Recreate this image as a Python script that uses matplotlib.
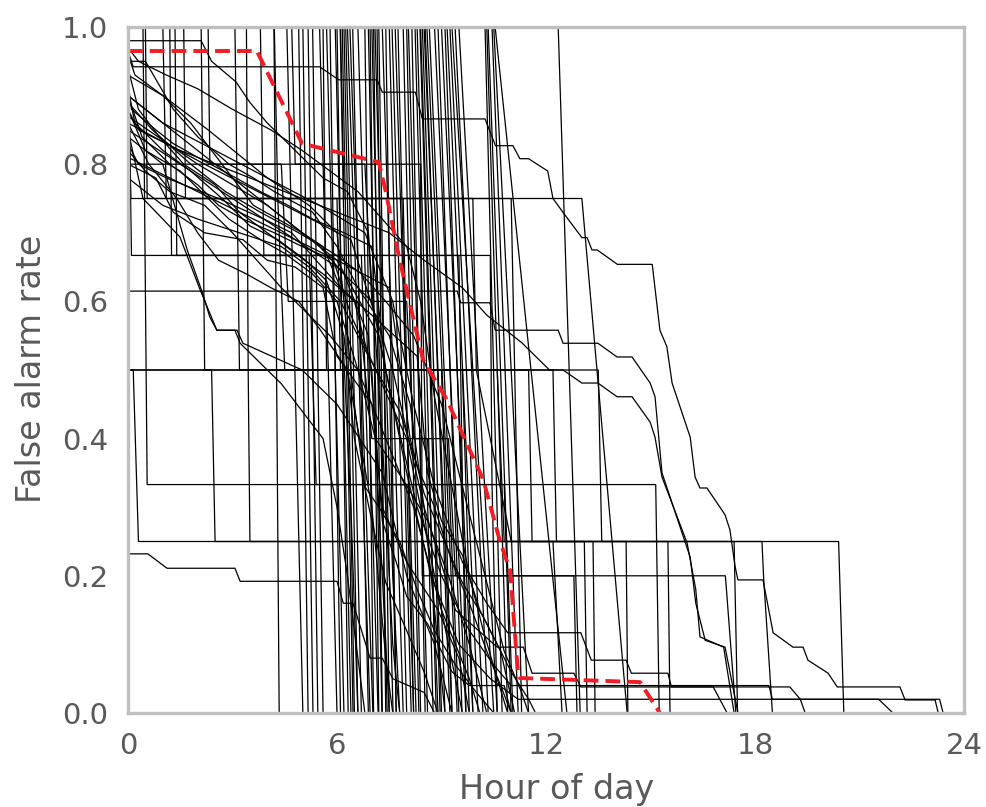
import matplotlib
matplotlib.use("Agg")
import matplotlib.pyplot as plt

# ---------------- data ----------------
hour_ticks = [0, 6, 12, 18, 24]
rate_ticks = [0.0, 0.2, 0.4, 0.6, 0.8, 1.0]

# mean false alarm rate (red dashed)
mean_hour = [0, 3.7, 5.0, 7.2, 7.4, 7.8, 8.47, 9.16, 10.2, 10.68, 10.97, 11.2, 11.25, 14.7, 15.27]
mean_rate = [0.965, 0.965, 0.83, 0.803, 0.76, 0.66, 0.515, 0.456, 0.34, 0.25, 0.208, 0.055, 0.051, 0.045, 0.0]

# stations whose rate falls almost straight from 1 to 0
drop_start_hour = [4.19, 4.56, 4.9, 5.02, 5.17, 5.3, 5.5, 5.7, 5.8, 5.95, 6.0, 6.09, 6.15, 6.2, 6.25,
                   6.3, 6.37, 6.45, 6.6, 6.8, 6.9, 6.95, 7.0, 7.05, 7.09, 7.15, 7.2, 7.3, 7.4, 7.5,
                   7.58, 7.67, 7.75, 7.9, 8.0, 8.05, 8.15, 8.24, 8.3, 8.38, 8.4, 8.45, 8.5, 8.53,
                   8.58, 8.65, 8.8, 8.9, 9.0, 9.1, 9.16, 9.24, 9.3, 9.39, 9.5, 10.25, 10.3, 10.34,
                   10.45, 10.5, 10.54, 12.35]
drop_end_hour = [4.34, 5.02, 5.17, 5.31, 5.45, 5.6, 6.0, 6.2, 6.1, 6.4, 6.32, 6.46, 6.5, 6.6, 6.7,
                 6.95, 7.03, 6.9, 7.18, 7.05, 7.29, 7.2, 7.44, 7.3, 7.61, 7.4, 7.5, 7.9, 7.7, 8.0,
                 8.13, 8.27, 8.2, 8.35, 8.4, 8.6, 8.53, 8.76, 8.85, 8.96, 9.0, 9.1, 9.3, 9.24,
                 9.45, 9.5, 9.7, 9.59, 9.9, 9.8, 10.05, 10.19, 10.5, 10.34, 10.6, 10.74, 10.9, 11.05,
                 11.2, 11.5, 12.6, 12.98]

# stations with few events (flat levels)
few_event_curves = [
    [(0, 1.0), (0.08, 0.75), (13.03, 0.75), (14.33, 0.0)],
    [(0, 1.0), (0.1, 0.667), (10.4, 0.667), (10.45, 0.333), (10.6, 0.0)],
    [(0, 0.5), (0.15, 0.5), (0.3, 0.25), (20.4, 0.25), (20.55, 0.0)],
    [(0, 1.0), (0.43, 1.0), (0.55, 0.333), (15.15, 0.333), (15.25, 0.0)],
    [(0, 0.5), (13.5, 0.5), (13.6, 0.25), (14.3, 0.25), (14.35, 0.0)],
    [(0, 1.0), (2.1, 1.0), (2.2, 0.5), (2.4, 0.5), (2.5, 0.25), (18.2, 0.25), (18.25, 0.195), (18.5, 0.0)],
    [(0, 1.0), (3.4, 1.0), (3.45, 0.5), (3.5, 0.25), (15.5, 0.25), (15.56, 0.0)],
    [(0, 1.0), (1.0, 1.0), (1.1, 0.75), (11.0, 0.75), (11.3, 0.0)],
    [(0, 1.0), (1.35, 1.0), (1.4, 0.667), (9.5, 0.667), (9.7, 0.0)],
    [(0, 1.0), (3.07, 1.0), (3.2, 0.5), (9.0, 0.5), (9.3, 0.0)],
    [(0, 0.8), (8.4, 0.8), (8.45, 0.2), (17.15, 0.2), (17.45, 0.0)],
    [(0, 0.5), (12.2, 0.5), (12.3, 0.25), (17.4, 0.25), (17.5, 0.0)],
    [(0, 1.0), (0.5, 1.0), (0.55, 0.75), (6.0, 0.75), (6.1, 0.5), (7.5, 0.5), (7.7, 0.0)],
    [(0, 1.0), (1.2, 1.0), (1.25, 0.667), (5.2, 0.667), (5.4, 0.333), (8.0, 0.333), (8.2, 0.0)],
    [(0, 1.0), (1.6, 1.0), (1.65, 0.75), (4.3, 0.75), (4.5, 0.5), (9.6, 0.5), (9.9, 0.0)],
    [(0, 1.0), (2.3, 1.0), (2.35, 0.8), (4.4, 0.8), (4.6, 0.6), (6.6, 0.6), (7.0, 0.4), (8.6, 0.4), (8.9, 0.0)],
    [(0, 1.0), (3.8, 1.0), (3.9, 0.667), (6.7, 0.667), (6.9, 0.333), (10.8, 0.333), (11.0, 0.0)],
    [(0, 1.0), (4.2, 1.0), (4.3, 0.75), (7.9, 0.75), (8.0, 0.5), (10.6, 0.5), (10.8, 0.25), (12.2, 0.25), (12.46, 0.0)],
    [(0, 1.0), (4.7, 1.0), (4.8, 0.8), (6.8, 0.8), (7.0, 0.6), (8.0, 0.6), (8.2, 0.4), (9.2, 0.4), (9.4, 0.2), (12.8, 0.2), (12.89, 0.0)],
    [(0, 1.0), (5.6, 1.0), (5.7, 0.5), (11.5, 0.5), (11.6, 0.25), (13.1, 0.25), (13.18, 0.0)],
    [(0, 1.0), (6.1, 1.0), (6.2, 0.75), (9.9, 0.75), (10.0, 0.5), (11.0, 0.25), (13.35, 0.25), (13.41, 0.0)],
]

# stations with many events (gradual staircases)
stair_curves = [
    [(0, 0.98), (2.1, 0.98), (2.4, 0.95), (3.1, 0.92), (3.5, 0.89), (4.0, 0.86), (4.6, 0.83), (5.2, 0.80), (5.6, 0.78), (6.3, 0.76), (6.9, 0.70), (7.3, 0.40), (7.6, 0.10), (7.8, 0.0)],
    [(0, 0.96), (0.2, 0.93), (1.0, 0.90), (1.8, 0.86), (2.4, 0.82), (3.0, 0.78), (3.6, 0.74), (4.3, 0.72), (5.0, 0.70), (5.6, 0.68), (6.1, 0.62), (6.4, 0.30), (6.6, 0.0)],
    [(0, 0.94), (0.3, 0.88), (0.9, 0.84), (1.6, 0.80), (2.5, 0.77), (3.2, 0.73), (4.0, 0.70), (4.8, 0.67), (5.6, 0.64), (6.5, 0.60), (7.0, 0.50), (7.3, 0.20), (7.5, 0.0)],
    [(0, 0.90), (0.4, 0.84), (1.2, 0.80), (2.0, 0.77), (2.6, 0.74), (3.3, 0.72), (4.2, 0.70), (5.0, 0.68), (5.9, 0.66), (6.4, 0.58), (8.0, 0.40), (8.6, 0.25), (9.2, 0.10), (9.6, 0.0)],
    [(0, 0.88), (0.5, 0.82), (1.5, 0.79), (2.1, 0.76), (2.9, 0.72), (3.8, 0.69), (4.5, 0.67), (5.3, 0.64), (6.0, 0.60), (6.6, 0.50), (8.2, 0.30), (9.0, 0.15), (9.8, 0.05), (10.1, 0.0)],
    [(0, 0.86), (0.6, 0.80), (1.4, 0.75), (2.0, 0.70), (2.6, 0.66), (3.4, 0.64), (4.1, 0.62), (4.9, 0.60), (5.5, 0.56), (6.3, 0.50), (7.0, 0.30), (7.4, 0.08), (7.6, 0.0)],
    [(0, 0.85), (0.43, 0.75), (1.49, 0.694), (2.07, 0.617), (2.55, 0.558), (3.13, 0.558), (3.3, 0.539), (5.0, 0.50), (6.0, 0.45), (7.3, 0.35), (8.0, 0.20), (8.8, 0.10), (9.3, 0.0)],
    [(0, 0.84), (1.0, 0.80), (1.7, 0.675), (2.12, 0.615), (2.35, 0.577), (2.55, 0.558), (3.07, 0.558), (3.22, 0.539), (4.4, 0.48), (5.6, 0.40), (6.0, 0.30), (6.3, 0.20), (6.8, 0.0)],
    [(0, 0.82), (0.5, 0.79), (1.2, 0.76), (2.2, 0.74), (3.0, 0.70), (3.7, 0.66), (4.4, 0.62), (5.2, 0.58), (5.8, 0.55), (6.6, 0.50), (7.1, 0.40), (7.9, 0.34), (8.6, 0.28), (9.2, 0.20), (9.8, 0.10), (10.3, 0.0)],
    [(0, 0.80), (0.8, 0.78), (1.3, 0.73), (2.2, 0.70), (3.3, 0.69), (4.0, 0.66), (4.8, 0.65), (5.6, 0.62), (6.0, 0.52), (7.0, 0.45), (7.3, 0.30), (8.0, 0.22), (8.9, 0.15), (9.5, 0.08), (9.8, 0.0)],
    [(0, 0.92), (0.1, 0.88), (0.8, 0.85), (1.3, 0.83), (2.0, 0.81), (3.1, 0.78), (3.8, 0.76), (4.6, 0.74), (5.3, 0.72), (6.2, 0.70), (7.0, 0.68), (7.4, 0.50), (7.6, 0.20), (7.8, 0.0)],
    [(0, 0.95), (0.5, 0.95), (1.3, 0.88), (2.0, 0.84), (2.9, 0.80), (3.6, 0.78), (4.2, 0.76), (5.3, 0.73), (6.0, 0.68), (6.6, 0.62), (7.5, 0.55), (8.1, 0.45), (8.5, 0.30), (8.9, 0.10), (9.1, 0.0)],
    [(0, 0.93), (1.0, 0.90), (2.3, 0.85), (4.0, 0.78), (5.2, 0.74), (6.0, 0.70), (6.5, 0.45), (6.8, 0.33), (7.2, 0.30), (7.8, 0.25), (8.3, 0.18), (8.8, 0.12), (9.4, 0.07), (10.0, 0.03), (10.5, 0.0)],
    [(0, 0.90), (1.5, 0.84), (3.0, 0.78), (4.5, 0.72), (6.0, 0.66), (7.5, 0.62), (8.1, 0.40), (8.5, 0.32), (9.0, 0.26), (9.6, 0.19), (10.2, 0.14), (10.6, 0.10), (11.0, 0.06), (11.5, 0.02), (11.7, 0.0)],
    [(0, 0.87), (2.0, 0.80), (4.0, 0.74), (5.5, 0.68), (6.2, 0.64), (6.9, 0.55), (7.3, 0.28), (7.7, 0.22), (8.0, 0.17), (8.6, 0.13), (9.3, 0.06), (9.8, 0.04), (10.8, 0.04), (11.0, 0.0)],
    [(0, 0.83), (0.3, 0.80), (1.1, 0.78), (2.6, 0.75), (3.9, 0.72), (4.7, 0.70), (5.4, 0.66), (6.1, 0.62), (7.0, 0.58), (8.3, 0.52), (8.6, 0.35), (9.0, 0.28), (9.6, 0.23), (10.1, 0.15), (10.7, 0.09), (11.1, 0.0)],
    [(0, 0.91), (0.2, 0.86), (1.0, 0.82), (1.8, 0.79), (2.7, 0.75), (3.5, 0.71), (4.3, 0.69), (5.1, 0.66), (5.7, 0.63), (6.2, 0.55), (6.5, 0.40), (7.0, 0.28), (7.4, 0.19), (8.0, 0.12), (8.5, 0.06), (8.9, 0.0)],
    [(0, 0.89), (0.7, 0.85), (1.8, 0.80), (2.8, 0.76), (3.8, 0.73), (4.9, 0.70), (5.9, 0.67), (6.7, 0.64), (7.4, 0.60), (8.2, 0.55), (9.0, 0.45), (9.5, 0.35), (10.0, 0.25), (10.4, 0.17), (10.8, 0.09), (11.3, 0.03), (11.5, 0.0)],
    [(0, 0.78), (1.0, 0.74), (2.0, 0.72), (3.2, 0.70), (4.4, 0.68), (5.2, 0.65), (6.1, 0.60), (6.9, 0.52), (7.8, 0.44), (8.3, 0.36), (8.8, 0.30), (9.3, 0.22), (9.8, 0.16), (10.3, 0.09), (10.7, 0.04), (11.0, 0.0)],
    [(0, 0.97), (0.3, 0.95), (1.1, 0.93), (2.0, 0.91), (3.0, 0.88), (4.1, 0.85), (5.0, 0.82), (5.8, 0.79), (6.6, 0.76), (7.3, 0.72), (8.0, 0.68), (8.4, 0.60), (8.8, 0.46), (9.3, 0.33), (9.8, 0.20), (10.2, 0.12), (10.6, 0.05), (10.9, 0.0)],
]

# stations whose alarms last into the afternoon / evening
late_curves = [
    [(0, 0.965), (0.15, 0.942), (5.5, 0.942), (6.05, 0.923), (7.15, 0.923), (7.3, 0.905), (8.25, 0.905), (8.45, 0.866),
     (10.25, 0.866), (10.55, 0.827), (11.05, 0.827), (11.25, 0.808), (11.5, 0.808), (12.05, 0.79), (12.2, 0.75),
     (12.5, 0.729), (13.03, 0.693), (13.18, 0.693), (13.32, 0.675), (13.47, 0.675), (14.05, 0.654), (15.05, 0.654),
     (15.27, 0.558), (15.47, 0.534), (15.62, 0.481), (16.14, 0.402), (16.28, 0.344), (16.42, 0.328), (16.62, 0.328),
     (17.14, 0.289), (17.28, 0.267), (17.43, 0.213), (17.51, 0.194), (18.23, 0.194), (18.52, 0.117), (19.09, 0.096),
     (19.38, 0.096), (19.52, 0.077), (20.1, 0.058), (20.36, 0.038), (22.16, 0.038), (22.31, 0.019), (23.17, 0.019), (23.26, 0.0)],
    [(0, 0.615), (9.45, 0.615), (9.55, 0.598), (10.39, 0.598), (10.54, 0.558), (12.35, 0.558), (12.49, 0.539),
     (13.49, 0.539), (14.04, 0.519), (14.47, 0.519), (14.99, 0.481), (15.13, 0.461), (15.33, 0.35), (15.62, 0.306),
     (16.14, 0.227), (16.3, 0.16), (16.57, 0.106), (17.14, 0.096), (17.23, 0.073), (17.51, 0.0)],
    [(0, 0.88), (0.3, 0.85), (1.5, 0.82), (3.0, 0.79), (4.5, 0.76), (6.0, 0.73), (7.5, 0.70), (8.5, 0.66), (9.6, 0.62),
     (10.3, 0.58), (11.3, 0.54), (12.1, 0.5), (12.49, 0.5), (13.03, 0.481), (13.49, 0.481), (14.04, 0.461),
     (14.47, 0.461), (14.99, 0.424), (15.13, 0.402), (15.33, 0.344), (16.05, 0.248), (16.3, 0.18), (16.42, 0.111),
     (17.1, 0.096), (17.4, 0.0)],
]

# stations with long low tails
tail_curves = [
    [(0, 0.9), (1, 0.86), (2.5, 0.82), (4, 0.78), (5.5, 0.74), (6.8, 0.70), (7.6, 0.6), (8.2, 0.45), (8.8, 0.33),
     (9.6, 0.22), (10.3, 0.16), (10.9, 0.117), (13.0, 0.117), (13.3, 0.077), (14.3, 0.077), (14.45, 0.058),
     (15.5, 0.058), (15.6, 0.038), (16.8, 0.038), (17.2, 0.0)],
    [(0, 0.85), (1.5, 0.8), (3, 0.75), (4.5, 0.7), (6, 0.65), (7, 0.6), (7.6, 0.45), (8.3, 0.3), (9.0, 0.2),
     (9.8, 0.12), (10.5, 0.07), (11.0, 0.04), (18.4, 0.04), (18.5, 0.02), (23.3, 0.02), (23.4, 0.0)],
    [(0, 0.81), (2, 0.76), (4, 0.71), (6, 0.66), (7.2, 0.55), (8.0, 0.35), (8.7, 0.2), (9.5, 0.1), (10.4, 0.05),
     (11.2, 0.02), (21.55, 0.02), (21.96, 0.0)],
    [(0, 0.232), (0.57, 0.232), (1.12, 0.211), (3.07, 0.211), (3.22, 0.192), (6.0, 0.192), (6.18, 0.16),
     (6.46, 0.16), (6.95, 0.08), (7.3, 0.08), (7.6, 0.05), (8.5, 0.03), (8.8, 0.0)],
    [(0, 0.86), (2.2, 0.80), (4.5, 0.74), (6.4, 0.69), (7.6, 0.5), (8.5, 0.3), (9.4, 0.15), (10.6, 0.096),
     (11.35, 0.096), (11.6, 0.058), (12.8, 0.058), (13.0, 0.038), (19.0, 0.038), (19.3, 0.02), (19.44, 0.0)],
]

# ---------------- figure ----------------
W, H = 986, 807
fig = plt.figure(figsize=(W / 100, H / 100), dpi=100)
ax = fig.add_axes([128 / W, 1 - 713 / H, (964 - 128) / W, (713 - 27) / H])

line_kw = dict(color="black", lw=0.9, solid_joinstyle="miter")

for x0, x1 in zip(drop_start_hour, drop_end_hour):
    ax.plot([0, x0, x1], [1.0, 1.0, 0.0], **line_kw)

for group in (few_event_curves, stair_curves, late_curves, tail_curves):
    for curve in group:
        xs = [p[0] for p in curve]
        ys = [p[1] for p in curve]
        ax.plot(xs, ys, **line_kw)

ax.plot(mean_hour, mean_rate, color="#f21d24", lw=2.8, dashes=(3.8, 1.8), zorder=5)

ax.set_xlim(0, 24)
ax.set_ylim(0, 1.0)
ax.set_xticks(hour_ticks)
ax.set_yticks(rate_ticks)
ax.set_xticklabels([str(h) for h in hour_ticks])
ax.set_yticklabels([f"{r:.1f}" for r in rate_ticks])
ax.tick_params(length=0, labelsize=21, labelcolor="#595959", pad=14)

for s in ax.spines.values():
    s.set_color("#bfbfbf")
    s.set_linewidth(2.4)
    s.set_zorder(6)

fig.text(32 / W, 1 - 369 / H, "False alarm rate", rotation=90, ha="center", va="center",
         fontsize=24, color="#595959")
fig.text(557 / W, 1 - 789 / H, "Hour of day", ha="center", va="center",
         fontsize=24, color="#595959")

fig.savefig("out.png", dpi=100)
